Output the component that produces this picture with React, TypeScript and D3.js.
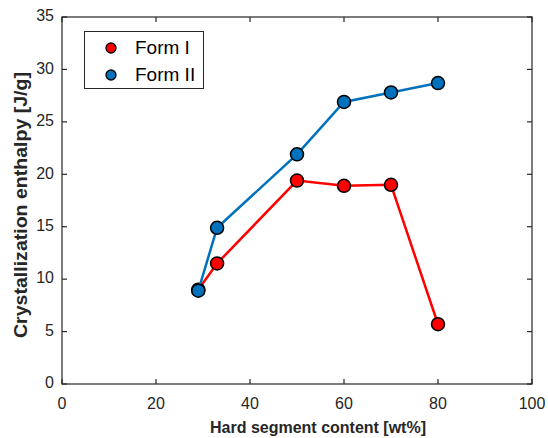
import React from "react";
import * as d3 from "d3";

const hardSegment = [29, 33, 50, 60, 70, 80];
const formI = [9.0, 11.5, 19.4, 18.9, 19.0, 5.7];
const formII = [8.9, 14.9, 21.9, 26.9, 27.8, 28.7];
const xTicks = [0, 20, 40, 60, 80, 100];
const yTicks = [0, 5, 10, 15, 20, 25, 30, 35];
const seriesNames = ["Form I", "Form II"];
const seriesColors = ["#ff0000", "#0072bd"];

const W = 548;
const H = 438;
const left = 62;
const right = 532;
const top = 17;
const bottom = 384;
const axisColor = "#262626";
const font = "'Liberation Sans', Arial, sans-serif";

export default function App() {
  const x = d3.scaleLinear().domain([0, 100]).range([left, right]);
  const y = d3.scaleLinear().domain([0, 35]).range([bottom, top]);
  const line = d3
    .line<number>()
    .x((_, i) => x(hardSegment[i]))
    .y((d) => y(d));
  const series = [formI, formII];
  const tickLen = 5;

  return (
    <svg
      width={W}
      height={H}
      style={{ position: "absolute", left: 0, top: 0, background: "#fff" }}
      fontFamily={font}
    >
      {/* series lines and markers */}
      {series.map((vals, si) => (
        <g key={si}>
          <path
            d={line(vals) ?? ""}
            fill="none"
            stroke={seriesColors[si]}
            strokeWidth={2.5}
          />
          {vals.map((v, i) => (
            <circle
              key={i}
              cx={x(hardSegment[i])}
              cy={y(v)}
              r={6.5}
              fill={seriesColors[si]}
              stroke="#000"
              strokeWidth={1.5}
            />
          ))}
        </g>
      ))}

      {/* axes box with inward ticks */}
      <rect
        x={left}
        y={top}
        width={right - left}
        height={bottom - top}
        fill="none"
        stroke={axisColor}
        strokeWidth={1.2}
      />
      {xTicks.map((t) => (
        <g key={"x" + t}>
          <line x1={x(t)} x2={x(t)} y1={bottom} y2={bottom - tickLen} stroke={axisColor} strokeWidth={1.2} />
          <line x1={x(t)} x2={x(t)} y1={top} y2={top + tickLen} stroke={axisColor} strokeWidth={1.2} />
          <text
            x={x(t)}
            y={bottom + 21}
            textAnchor="middle"
            fontSize={16}
            fill={axisColor}
            dominantBaseline="middle"
          >
            {t}
          </text>
        </g>
      ))}
      {yTicks.map((t) => (
        <g key={"y" + t}>
          <line x1={left} x2={left + tickLen} y1={y(t)} y2={y(t)} stroke={axisColor} strokeWidth={1.2} />
          <line x1={right} x2={right - tickLen} y1={y(t)} y2={y(t)} stroke={axisColor} strokeWidth={1.2} />
          <text
            x={left - 8}
            y={y(t)}
            textAnchor="end"
            fontSize={16}
            fill={axisColor}
            dominantBaseline="middle"
          >
            {t}
          </text>
        </g>
      ))}

      {/* axis titles */}
      <text
        x={318}
        y={433}
        textAnchor="middle"
        fontSize={16}
        fontWeight="bold"
        fill={axisColor}
      >
        Hard segment content [wt%]
      </text>
      <text
        transform={`translate(27, 205) rotate(-90)`}
        textAnchor="middle"
        fontSize={18}
        fontWeight="bold"
        fill={axisColor}
        textLength={266}
        lengthAdjust="spacingAndGlyphs"
      >
        Crystallization enthalpy [J/g]
      </text>

      {/* legend */}
      <rect x={84.5} y={31.5} width={119} height={57} fill="#fff" stroke={axisColor} strokeWidth={1} />
      {seriesNames.map((name, i) => (
        <g key={name}>
          <circle
            cx={111}
            cy={48 + i * 27}
            r={5}
            fill={seriesColors[i]}
            stroke="#000"
            strokeWidth={1.3}
          />
          <text x={135} y={49 + i * 27} fontSize={19} fill="#000" dominantBaseline="middle">
            {name}
          </text>
        </g>
      ))}
    </svg>
  );
}
